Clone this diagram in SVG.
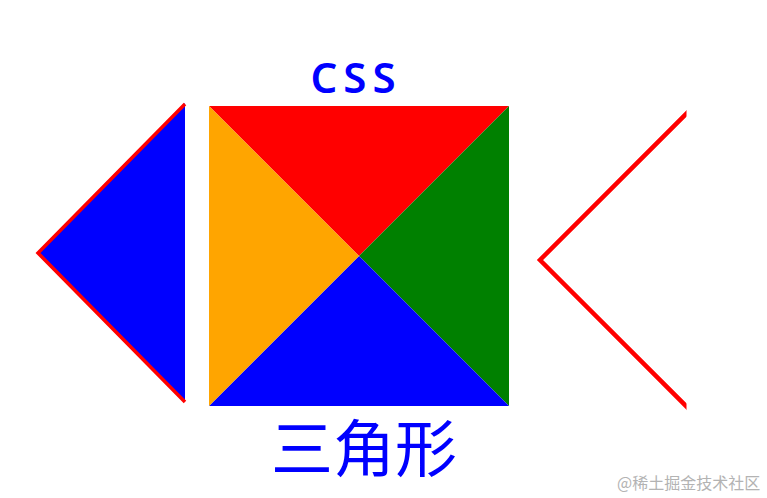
<svg xmlns="http://www.w3.org/2000/svg" width="767" height="498" viewBox="0 0 767 498">
<style>
.title{font-family:"Noto Sans","Open Sans","Liberation Sans",sans-serif;font-weight:600;fill:#0000ff}
.cjk{font-family:"Noto Sans CJK SC","Noto Sans",sans-serif;fill:#0000ff}
.wm{font-family:"Noto Sans CJK SC","Noto Sans",sans-serif;fill:#b3b3b3}
.edge{fill:none;stroke:#ff0000}
</style>
<rect width="767" height="498" fill="#ffffff"/>
<g id="left-triangle">
<polygon points="185,103 37,253 185,402" fill="#0000ff"/>
<polyline class="edge" points="185,104 38,253 185,402" stroke-width="3.5"/>
</g>
<g id="square">
<polygon points="209,106 509,106 359,256" fill="#ff0000"/>
<polygon points="509,106 509,406 359,256" fill="#008000"/>
<polygon points="509,406 209,406 359,256" fill="#0000ff"/>
<polygon points="209,406 209,106 359,256" fill="#ffa500"/>
</g>
<g id="right-chevron">
<clipPath id="clipR"><rect x="520" y="90" width="166.5" height="330"/></clipPath>
<polyline class="edge" points="690,110 540,260 690,410" stroke-width="4.5" clip-path="url(#clipR)"/>
</g>
<g id="labels">
<text class="title" x="356" y="93" font-size="42" letter-spacing="6" text-anchor="middle">CSS</text>
<text class="cjk" x="364" y="472" font-size="62" text-anchor="middle">三角形</text>
<text class="wm" x="617" y="489" font-size="16">@稀土掘金技术社区</text>
</g>
</svg>
